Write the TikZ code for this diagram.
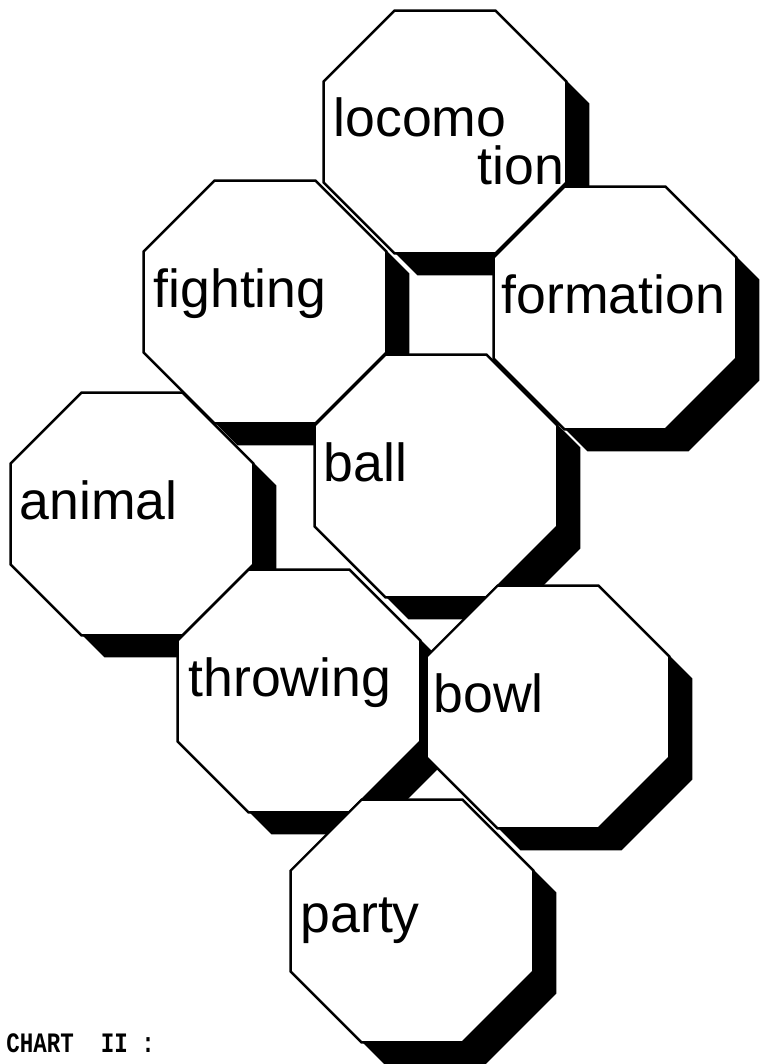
\documentclass[tikz,border=0pt]{standalone}
\usepackage{fontspec}
\setmainfont{Liberation Sans}
\newfontfamily\chartfont{Liberation Mono}
\usepackage{graphicx}
\usetikzlibrary{shapes.geometric,positioning}

\begin{document}
\begin{tikzpicture}[x=0.02cm,y=-0.02cm,
  octo/.style={regular polygon,regular polygon sides=8,minimum size=5.26cm,
        inner sep=0pt,draw=black,line width=1.4pt,fill=white},
  octoshadow/.style={regular polygon,regular polygon sides=8,minimum size=5.26cm,
        inner sep=0pt,fill=black,xshift=0.46cm,yshift=-0.44cm},
  word/.style={font=\fontsize{30.5}{34}\selectfont,inner sep=0pt,anchor=base west}]
  \useasboundingbox (0,0) rectangle (761,1064);

  %% Shadows (all behind the octagons)
  \node[octoshadow] (locoS)  at (445,132) {};
  \node[octoshadow] (fightS) at (265,302) {};
  \node[octoshadow] (formS)  at (615,308) {};
  \node[octoshadow] (ballS)  at (436,476) {};
  \node[octoshadow] (animS)  at (132,514) {};
  \node[octoshadow] (throwS) at (299,691) {};
  \node[octoshadow] (bowlS)  at (548,707) {};
  \node[octoshadow] (partyS) at (412,921) {};

  %% Octagons
  \node[octo] (loco)  at (445,132) {};
  \node[octo] (fight) at (265,302) {};
  \node[octo] (form)  at (615,308) {};
  \node[octo] (ball)  at (436,476) {};
  \node[octo] (anim)  at (132,514) {};
  \node[octo] (throw) at (299,691) {};
  \node[octo] (bowl)  at (548,707) {};
  \node[octo] (party) at (412,921) {};

  %% Words
  \node[word] (locoA) at ([xshift=0.22cm,yshift=-0.1cm]loco.west) {locomo};
  \node[word,anchor=base east] (locoB) at ([xshift=-0.06cm,yshift=-1.06cm]loco.east) {tion};
  \node[word] (fightW) at ([xshift=0.22cm,yshift=-0.1cm]fight.west) {fighting};
  \node[word] (formW)  at ([xshift=0.18cm,yshift=-0.1cm]form.west)  {formation};
  \node[word] (ballW)  at ([xshift=0.2cm,yshift=-0.1cm]ball.west)   {ball};
  \node[word] (animW)  at ([xshift=0.2cm,yshift=-0.1cm]anim.west)   {animal};
  \node[word] (throwW) at ([xshift=0.24cm,yshift=-0.1cm]throw.west) {throwing};
  \node[word] (bowlW)  at ([xshift=0.16cm,yshift=-0.1cm]bowl.west)  {bowl};
  \node[word] (partyW) at ([xshift=0.22cm,yshift=-0.22cm]party.west) {party};

  %% Caption
  \node[anchor=base west,inner sep=0pt,font=\chartfont\bfseries\fontsize{16}{18}\selectfont]
        (caption) at (6,1052) {\scalebox{0.8}[1]{CHART\ \ II\ :}};
\end{tikzpicture}
\end{document}
